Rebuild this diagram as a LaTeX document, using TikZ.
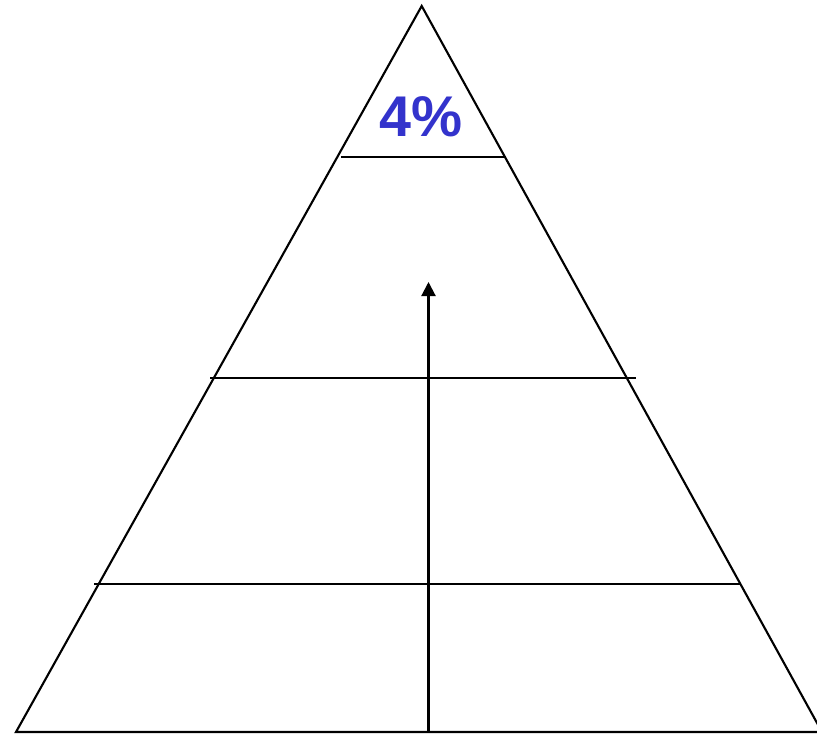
\documentclass[tikz,border=0pt]{standalone}
\usepackage{fontspec}
\setsansfont{Liberation Sans}
\usetikzlibrary{arrows.meta}
\definecolor{pctblue}{HTML}{3333CC}
\tikzset{
  edge/.style={line width=1.8pt},
  level/.style={line width=1.4pt},
  rise/.style={line width=1.8pt, -{Triangle[width=12pt,length=12pt]}}
}
\begin{document}
\begin{tikzpicture}[x=0.03cm, y=-0.03cm]
      \useasboundingbox (0,0) rectangle (817,734);
      \begin{scope}
        \clip (0,0) rectangle (817,734);
        \coordinate (apex) at (421.7,6);
        \coordinate (left) at (16,732);
        \coordinate (right) at (822,732);
        \coordinate (baseend) at (817,732);
        \draw[edge, line join=miter] (baseend) -- (left) -- (apex) -- (right);
      \end{scope}
      % levels
      \coordinate (l1a) at (341,157);  \coordinate (l1b) at (506,157);
      \coordinate (l2a) at (210,378);  \coordinate (l2b) at (636,378);
      \coordinate (l3a) at (94,584);   \coordinate (l3b) at (740,584);
      \draw[level] (l1a) -- (l1b);
      \draw[level] (l2a) -- (l2b);
      \draw[level] (l3a) -- (l3b);
      % arrow
      \coordinate (foot) at (428.5,732);
      \coordinate (tip) at (428.5,282);
      \draw[rise] (foot) -- (tip);
      \node[text=pctblue, font=\sffamily\bfseries\fontsize{49}{49}\selectfont] (pct) at (421,116.5) {4\%};
    \end{tikzpicture}
\end{document}
